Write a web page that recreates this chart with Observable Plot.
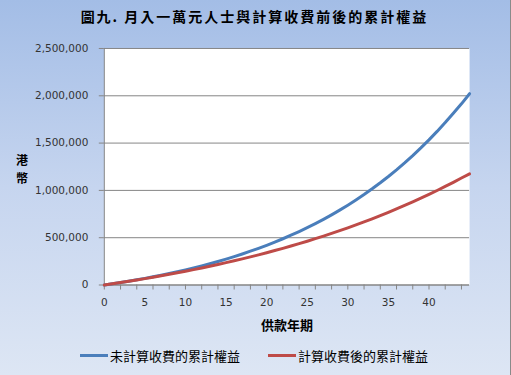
<!DOCTYPE html>
<html>
<head>
<meta charset="utf-8">
<script src="https://cdn.jsdelivr.net/npm/d3@7"></script>
<script src="https://cdn.jsdelivr.net/npm/@observablehq/plot@0.6"></script>
<style>
  html, body { margin: 0; padding: 0; }
  #wrap {
    position: relative; width: 511px; height: 375px; overflow: hidden;
    background: linear-gradient(to bottom, #a3bde6 0%, #c6d5ef 50%, #dde6f4 100%);
    box-sizing: border-box; border-right: 1px solid #8a8a8a;
    font-family: "Noto Sans CJK TC", "DejaVu Sans", sans-serif;
  }
  #title {
    position: absolute; left: 0; top: 5px; width: 509px; text-align: center;
    font-size: 14px; font-weight: 700; letter-spacing: 2px; color: #000; line-height: 22px;
  }
  #chart { position: absolute; left: 0; top: 38px; }
  .ych {
    position: absolute; left: 14px; width: 16px; height: 18px; font-size: 12px; font-weight: 700;
    line-height: 18px; text-align: center; color: #000;
  }
  #xtitle {
    position: absolute; left: 187px; width: 200px; top: 315px; text-align: center;
    font-size: 13px; font-weight: 700; color: #000; line-height: 20px;
  }
  #legend { position: absolute; top: 345px; left: 0; width: 511px; height: 20px; font-size: 13px; color: #000; }
  .item { position: absolute; top: 0; height: 20px; display: flex; align-items: center; }
  .sw { width: 28px; height: 3px; margin-right: 2px; }
</style>
</head>
<body>
<div id="wrap">
  <div id="title"></div>
  <div id="chart"></div>
  <div id="xtitle"></div>
  <div id="legend"></div>
</div>
<script>
const titleText = "圖九. 月入一萬元人士與計算收費前後的累計權益";
const yTitle = ["港", "幣"];
const xTitle = "供款年期";
const seriesNames = ["未計算收費的累計權益", "計算收費後的累計權益"];
const seriesColors = ["#4a7ebb", "#be4b48"];

const years = [0,1,2,3,4,5,6,7,8,9,10,11,12,13,14,15,16,17,18,19,20,21,22,23,24,25,26,27,28,29,30,31,32,33,34,35,36,37,38,39,40,41,42,43,44,45];
const beforeFees = [0,12700,26000,40000,54700,70200,86400,103400,121300,140000,159700,180400,202100,225000,248900,274000,300400,328200,357300,387800,419900,453600,489000,526200,565200,606100,649100,694300,741700,791500,843800,898700,956300,1016800,1080400,1147100,1217100,1290700,1367900,1449000,1534200,1623600,1717400,1816000,1915000,2022000];
const afterFees = [0,12700,25800,39300,53100,67400,82100,97300,112900,129000,145600,162700,180200,198300,217000,236200,256000,276400,297400,319000,341200,364200,387800,412200,437200,463000,489600,517000,545200,574300,604200,635000,666800,699500,733200,767900,803600,840400,878300,917400,957600,999000,1041700,1085600,1130900,1175000];

const yTicks = [0, 500000, 1000000, 1500000, 2000000, 2500000];
const xLabelTicks = [0, 5, 10, 15, 20, 25, 30, 35, 40];
const xMinorTicks = [0, 2, 4, 6, 8, 10, 12, 14, 16, 18, 20, 22, 24, 26, 28, 30, 32, 34, 36, 38, 40, 42, 44];

const data = [];
years.forEach((yr, i) => {
  data.push({year: yr, value: beforeFees[i], series: seriesNames[0]});
  data.push({year: yr, value: afterFees[i], series: seriesNames[1]});
});

const chart = Plot.plot({
  width: 511,
  height: 300,
  marginTop: 10,
  marginBottom: 53,
  marginLeft: 104,
  marginRight: 41,
  style: {background: "transparent", fontFamily: "DejaVu Sans", fontSize: "10.5px", color: "#333"},
  x: {domain: [0, 45]},
  y: {domain: [0, 2500000]},
  color: {domain: seriesNames, range: seriesColors},
  marks: [
    Plot.frame({fill: "white", stroke: "none"}),
    Plot.gridY(yTicks, {stroke: "#868686", strokeOpacity: 1}),
    Plot.ruleX([0], {stroke: "#868686"}),
    Plot.ruleY([0], {stroke: "#868686"}),
    Plot.axisY({ticks: yTicks, tickFormat: d3.format(","), tickSize: 5, tickPadding: 11, label: null, stroke: "#868686", fill: "#333"}),
    Plot.axisX({ticks: xMinorTicks, tickFormat: () => "", tickSize: 5, label: null, stroke: "#868686"}),
    Plot.axisX({ticks: xLabelTicks, tickSize: 0, tickPadding: 14, label: null, fill: "#333"}),
    Plot.line(data, {x: "year", y: "value", z: "series", stroke: "series", strokeWidth: 3})
  ]
});
document.getElementById("chart").appendChild(chart);

document.getElementById("title").textContent = titleText;
const wrap = document.getElementById("wrap");
const yTitleTop = [151, 169];
yTitle.forEach((ch, i) => {
  const d = document.createElement("div");
  d.className = "ych";
  d.style.top = yTitleTop[i] + "px";
  d.textContent = ch;
  wrap.appendChild(d);
});
document.getElementById("xtitle").textContent = xTitle;

const legend = document.getElementById("legend");
const legendX = [80, 268];
seriesNames.forEach((name, i) => {
  const item = document.createElement("div");
  item.className = "item";
  item.style.left = legendX[i] + "px";
  const sw = document.createElement("div");
  sw.className = "sw";
  sw.style.background = seriesColors[i];
  const t = document.createElement("span");
  t.textContent = name;
  item.appendChild(sw);
  item.appendChild(t);
  legend.appendChild(item);
});
</script>
</body>
</html>
